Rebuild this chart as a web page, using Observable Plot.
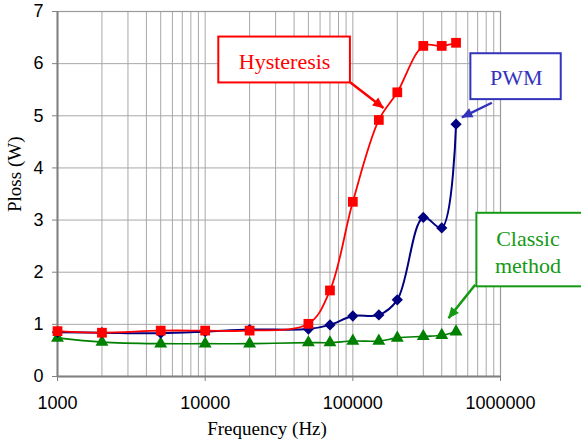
<!DOCTYPE html>
<html>
<head>
<meta charset="utf-8">
<script src="https://cdn.jsdelivr.net/npm/d3@7"></script>
<script src="https://cdn.jsdelivr.net/npm/@observablehq/plot@0.6"></script>
<style>
  html, body { margin: 0; padding: 0; background: #fff; overflow: hidden; }
  #chart { width: 581px; height: 445px; overflow: hidden; }
  #chart svg { display: block; max-width: none !important; }
</style>
</head>
<body>
<div id="chart"></div>
<script>
// ---- data ----
const frequency = [1000, 2000, 5000, 10000, 20000, 50000, 70000, 100000, 150000, 200000, 300000, 400000, 500000];
const hysteresis = [0.87, 0.84, 0.88, 0.88, 0.88, 1.01, 1.65, 3.35, 4.92, 5.45, 6.34, 6.34, 6.40];
const pwm = [0.85, 0.84, 0.83, 0.86, 0.90, 0.91, 0.99, 1.16, 1.18, 1.47, 3.05, 2.85, 4.84];
const classic = [0.74, 0.66, 0.63, 0.63, 0.63, 0.65, 0.65, 0.68, 0.68, 0.74, 0.77, 0.79, 0.86];

const xTicks = [1000, 10000, 100000, 1000000];
const yTicks = [0, 1, 2, 3, 4, 5, 6, 7];
const xGrid = [1000, 2000, 3000, 4000, 5000, 6000, 7000, 8000, 9000,
  10000, 20000, 30000, 40000, 50000, 60000, 70000, 80000, 90000,
  100000, 200000, 300000, 400000, 500000, 600000, 700000, 800000, 900000, 1000000];

const xLabel = "Frequency (Hz)";
const yLabel = "Ploss (W)";

// callouts (data coordinates); the third box runs past the right edge of the picture
const calloutNames = ["Hysteresis", "PWM", "Classic\nmethod"];
const calloutColors = ["#ff0000", "#3333bb", "#159915"];
const calloutTextX = [34500, 1277000, 1534000];
const calloutTextY = [6.07, 5.75, 2.41];
const calloutBoxX1 = [12370, 630000, 692000];
const calloutBoxX2 = [96300, 2578000, 1e9];
const calloutBoxY1 = [5.63, 5.31, 1.72];
const calloutBoxY2 = [6.51, 6.19, 3.13];
const arrowX1 = [96300, 874000, 674000];
const arrowY1 = [5.64, 5.25, 1.76];
const arrowX2 = [161200, 547500, 444600];
const arrowY2 = [5.15, 4.97, 1.12];

// ---- build tables ----
const series = (vals, name) => frequency.map((f, i) => ({f, v: vals[i], name}));
const hystData = series(hysteresis, "Hysteresis");
const pwmData = series(pwm, "PWM");
const classicData = series(classic, "Classic method");
const callouts = calloutNames.map((n, i) => ({
  name: n, color: calloutColors[i],
  tx: calloutTextX[i], ty: calloutTextY[i],
  x1: calloutBoxX1[i], x2: calloutBoxX2[i], y1: calloutBoxY1[i], y2: calloutBoxY2[i],
  ax1: arrowX1[i], ay1: arrowY1[i], ax2: arrowX2[i], ay2: arrowY2[i]
}));

function triHead(color) {
  const m = d3.create("svg:marker")
    .attr("viewBox", "-11 -6 12 12")
    .attr("markerWidth", 12)
    .attr("markerHeight", 12)
    .attr("markerUnits", "userSpaceOnUse")
    .attr("orient", "auto")
    .attr("fill", color)
    .attr("stroke", "none");
  m.append("path").attr("d", "M-10.5,-5L0.5,0L-10.5,5Z");
  return m.node();
}

const serif = "'Liberation Serif', 'Times New Roman', serif";
const sans = "'Liberation Sans', Arial, sans-serif";

const chart = Plot.plot({
  width: 581,
  height: 445,
  marginLeft: 57,
  marginRight: 81,
  marginTop: 11,
  marginBottom: 69,
  style: {background: "#fff", overflow: "hidden"},
  x: {type: "log", domain: [1000, 1000000]},
  y: {domain: [0, 7]},
  marks: [
    Plot.ruleX(xGrid, {stroke: "#a8a8a8", strokeWidth: 1}),
    Plot.ruleY(yTicks.filter(d => d > 0), {stroke: "#a8a8a8", strokeWidth: 1}),
    Plot.frame({stroke: "#9a9a9a", strokeWidth: 1.2}),
    Plot.ruleX([1000], {stroke: "#808080", strokeWidth: 2}),
    Plot.ruleY([0], {stroke: "#808080", strokeWidth: 2}),
    Plot.axisX({ticks: xTicks, tickFormat: d => String(d), tickSize: 5, tickPadding: 15,
      fontSize: 18, fontFamily: sans, stroke: "#808080", color: "#000", label: null}),
    Plot.axisY({ticks: yTicks, tickFormat: d => String(d), tickSize: 5, tickPadding: 9,
      fontSize: 18, fontFamily: sans, stroke: "#808080", color: "#000", label: null}),
    Plot.text([xLabel], {frameAnchor: "bottom", dx: -12, dy: 58, fontSize: 19, fontFamily: serif, fill: "#000"}),
    Plot.text([yLabel], {frameAnchor: "left", rotate: -90, dx: -43, dy: 18, fontSize: 19, fontFamily: serif, fill: "#000"}),

    // series
    Plot.line(classicData, {x: "f", y: "v", stroke: "#008000", strokeWidth: 1.6, curve: "catmull-rom"}),
    Plot.dot(classicData, {x: "f", y: "v", symbol: "triangle", r: 4.8, fill: "#008000", stroke: "none"}),
    Plot.line(pwmData, {x: "f", y: "v", stroke: "#000080", strokeWidth: 2, curve: "catmull-rom"}),
    Plot.dot(pwmData, {x: "f", y: "v", symbol: "square", r: 4.5, rotate: 45, fill: "#000080", stroke: "none"}),
    Plot.line(hystData, {x: "f", y: "v", stroke: "#ff0000", strokeWidth: 1.8, curve: "catmull-rom"}),
    Plot.dot(hystData, {x: "f", y: "v", symbol: "square", r: 5.5, fill: "#ff0000", stroke: "none"}),

    // callouts
    Plot.rect(callouts, {x1: "x1", x2: "x2", y1: "y1", y2: "y2", fill: "#fff", stroke: "color", strokeWidth: 2}),
    Plot.text(callouts, {x: "tx", y: "ty", text: "name", fill: "color", fontSize: 22, fontFamily: serif, lineHeight: 1.25}),
    ...callouts.map(c => Plot.link([c], {x1: "ax1", y1: "ay1", x2: "ax2", y2: "ay2",
      stroke: c.color, strokeWidth: 2.5, markerEnd: triHead}))
  ]
});

document.getElementById("chart").appendChild(chart);
</script>
</body>
</html>
